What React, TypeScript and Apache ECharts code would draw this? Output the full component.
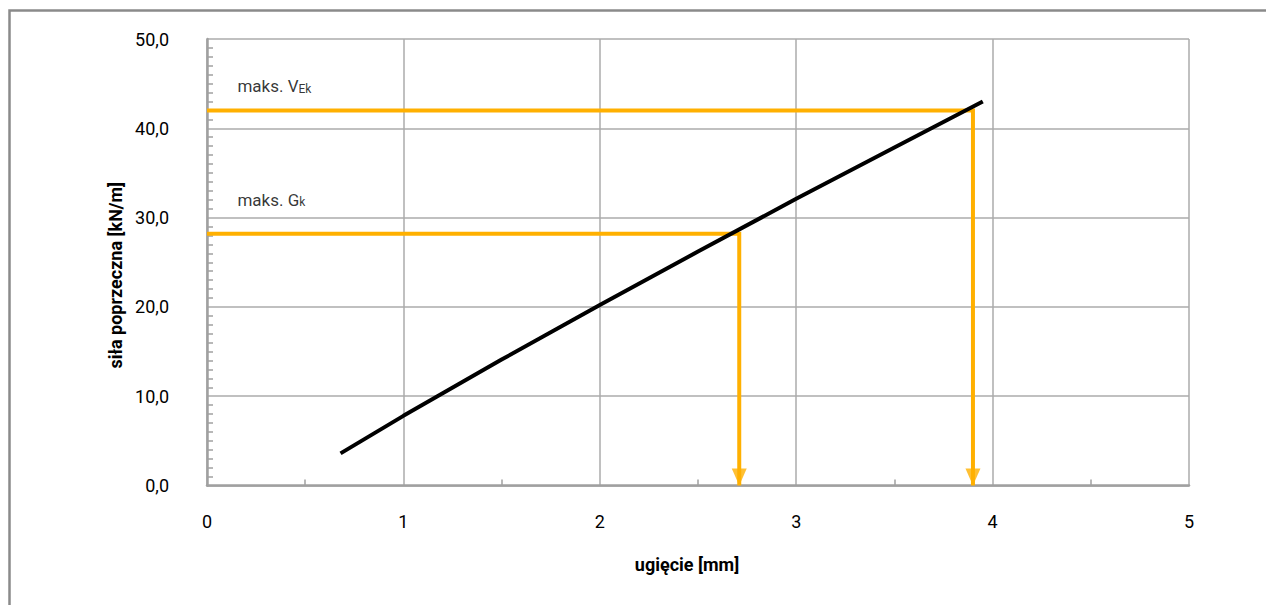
import React, { useEffect, useRef } from "react";
import * as echarts from "echarts";

// deflection [mm] vs shear force [kN/m]
const deflection = [0.68, 1.0, 1.5, 2.0, 2.5, 3.0, 3.5, 3.95];
const shearForce = [3.6, 7.8, 14.1, 20.2, 26.2, 32.1, 37.85, 43.0];

// characteristic levels
const gkForce = 28.2;
const gkDeflection = 2.71;
const vekForce = 42.0;
const vekDeflection = 3.9;

const xTicks = [0, 1, 2, 3, 4, 5];
const yTicks = [0, 10, 20, 30, 40, 50];

const labelGk = { main: "maks. G", sub: "k", x: 0.155, y: 32.3 };
const labelVek = { main: "maks. V", sub: "Ek", x: 0.155, y: 45.0 };

const xName = "ugięcie [mm]";
const yName = "siła poprzeczna [kN/m]";

const FONT = 'Roboto, "Noto Sans", sans-serif';
const ORANGE = "#FFB000";
const GRID = "#ababab";

export default function App() {
  const ref = useRef<HTMLDivElement>(null);
  useEffect(() => {
    if (!ref.current) return;
    const chart = echarts.init(ref.current, null, { renderer: "svg" });
    const pts = deflection.map((d, i) => [d, shearForce[i]]);
    const arrowPath = "path://M0,0 L10,0 L5,12 Z";
    const mkLabel = (l: { main: string; sub: string; x: number; y: number }) => ({
      type: "scatter",
      data: [[l.x, l.y]],
      symbolSize: 0,
      silent: true,
      label: {
        show: true,
        position: "right",
        distance: 0,
        formatter: `{a|${l.main}}{s|${l.sub}}`,
        rich: {
          a: { fontSize: 17, fontFamily: FONT, color: "#000", lineHeight: 22, verticalAlign: "bottom" },
          s: { fontSize: 12, fontFamily: FONT, color: "#000", lineHeight: 15, verticalAlign: "bottom" },
        },
      },
      z: 5,
    });
    chart.setOption({
      animation: false,
      backgroundColor: "#fff",
      textStyle: { fontFamily: FONT },
      graphic: [
        {
          type: "rect",
          shape: { x: 9.5, y: 10.5, width: 1400, height: 800 },
          style: { fill: "none", stroke: "#8a8a8a", lineWidth: 2.5 },
          silent: true,
        },
      ],
      grid: { left: 207, right: 77, top: 39, bottom: 119.5, containLabel: false },
      xAxis: {
        type: "value",
        min: xTicks[0],
        max: xTicks[xTicks.length - 1],
        interval: 1,
        name: xName,
        nameLocation: "middle",
        nameGap: 70,
        nameTextStyle: { fontSize: 18, fontWeight: "bold", color: "#000", fontFamily: FONT, padding: [0, 22, 0, 0] },
        axisLine: { show: true, lineStyle: { color: "#a0a0a0", width: 2.5 } },
        axisTick: { show: false, inside: true },
        minorTick: { show: true, splitNumber: 2, length: 6, lineStyle: { color: "#a0a0a0", width: 1.5 } },
        axisLabel: { fontSize: 18, color: "#000", margin: 27, fontFamily: FONT, formatter: (v: number) => String(v) },
        splitLine: { show: true, lineStyle: { color: GRID, width: 1.5 } },
      },
      yAxis: {
        type: "value",
        min: yTicks[0],
        max: yTicks[yTicks.length - 1],
        interval: 10,
        name: yName,
        nameLocation: "middle",
        nameGap: 83,
        nameTextStyle: { fontSize: 18, fontWeight: "bold", color: "#000", fontFamily: FONT, padding: [0, 26, 0, 0] },
        axisLine: { show: true, lineStyle: { color: "#a0a0a0", width: 2.5 } },
        axisTick: { show: false, inside: true },
        minorTick: { show: true, splitNumber: 10, length: 6, lineStyle: { color: "#a0a0a0", width: 1.5 } },
        axisLabel: {
          fontSize: 18,
          color: "#000",
          margin: 38,
          fontFamily: FONT,
          formatter: (v: number) => v.toFixed(1).replace(".", ","),
        },
        splitLine: { show: true, lineStyle: { color: GRID, width: 1.5 } },
      },
      series: [
        {
          type: "line",
          data: [[0, vekForce], [vekDeflection, vekForce], [vekDeflection, 0]],
          showSymbol: false,
          lineStyle: { color: ORANGE, width: 4, cap: "butt", join: "miter" },
          silent: true,
          z: 3,
        },
        {
          type: "line",
          data: [[0, gkForce], [gkDeflection, gkForce], [gkDeflection, 0]],
          showSymbol: false,
          lineStyle: { color: ORANGE, width: 4, cap: "butt", join: "miter" },
          silent: true,
          z: 3,
        },
        {
          type: "scatter",
          data: [[gkDeflection, 0], [vekDeflection, 0]],
          symbol: arrowPath,
          symbolSize: [15, 17],
          symbolOffset: [0, "-50%"],
          itemStyle: { color: ORANGE },
          silent: true,
          z: 4,
        },
        {
          type: "line",
          data: pts,
          showSymbol: false,
          lineStyle: { color: "#000", width: 4, cap: "butt" },
          silent: true,
          z: 5,
        },
        mkLabel(labelVek),
        mkLabel(labelGk),
      ],
    });
    return () => chart.dispose();
  }, []);
  return (
    <div
      ref={ref}
      style={{ position: "fixed", left: 0, top: 0, width: 1266, height: 605, background: "#fff" }}
    />
  );
}
